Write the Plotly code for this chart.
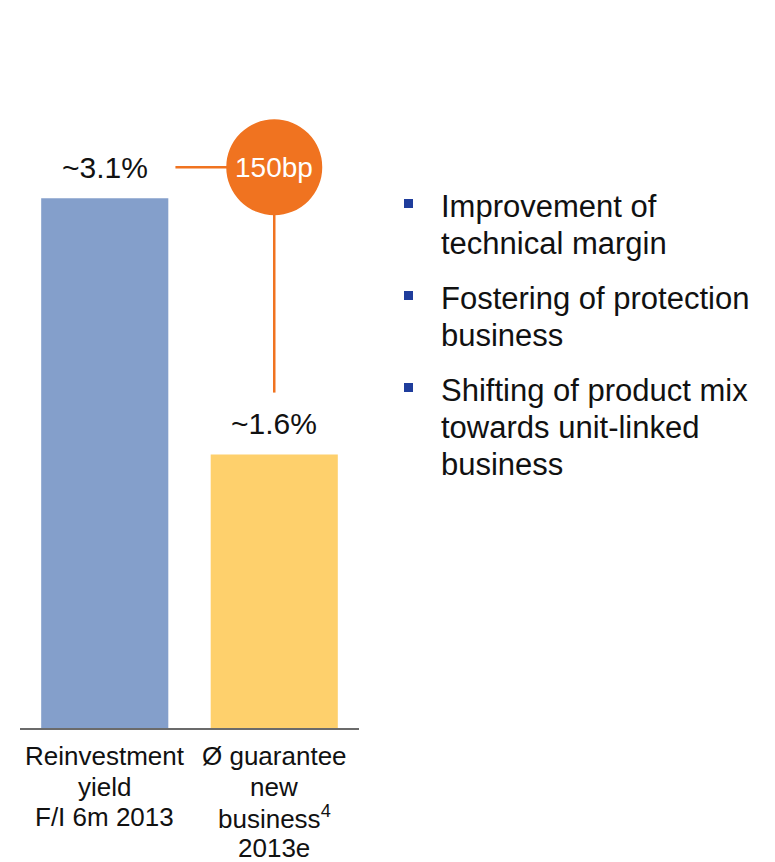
import plotly.graph_objects as go

# --- data -------------------------------------------------------------
category_lines = [
    ["Reinvestment", "yield", "F/I 6m 2013"],
    ["Ø guarantee", "new", "business<sup>4</sup>", "2013e"],
]
values = [3.1, 1.6]                      # percent
value_labels = [f"~{v:.1f}%" for v in values]
bar_colors = ["#849FCB", "#FED06C"]

bullet_items = [
    ["Improvement of", "technical margin"],
    ["Fostering of protection", "business"],
    ["Shifting of product mix", "towards unit-linked", "business"],
]

# --- layout constants -------------------------------------------------
W, H = 775, 862
FONT = "Liberation Sans, Arial, sans-serif"
BASELINE_PX = 728                     # pixel row of the zero line
Y_MAX = 4.26
PX_PER_UNIT = BASELINE_PX / Y_MAX     # y-axis domain runs to the top edge
ORANGE = "#F07320"
BULLET_BLUE = "#1F3D9C"

spread_bp = round((values[0] - values[1]) * 100)

fig = go.Figure(
    go.Bar(
        x=[0, 1],
        y=values,
        width=0.75,
        marker=dict(color=bar_colors, line=dict(width=0)),
        hoverinfo="skip",
    )
)

# value labels above bars
for i, (v, lab) in enumerate(zip(values, value_labels)):
    fig.add_annotation(
        x=i, y=v, xref="x", yref="y", text=lab, showarrow=False,
        yanchor="middle", yshift=31,
        font=dict(family=FONT, size=30, color="#111111"),
    )

# category names under the baseline, one line per annotation
for i, lines in enumerate(category_lines):
    for j, txt in enumerate(lines):
        fig.add_annotation(
            x=i, xref="x", y=1 - (756 + j * 30.5) / H, yref="paper",
            text=txt, showarrow=False, yanchor="middle",
            font=dict(family=FONT, size=26, color="#111111"),
        )

# spread bubble with connectors
bubble_y = values[0] + 31 / PX_PER_UNIT
line_end_y = values[1] + 62 / PX_PER_UNIT
fig.add_shape(type="line", xref="x", yref="y",
              x0=0.417, x1=1.0, y0=bubble_y, y1=bubble_y,
              line=dict(color=ORANGE, width=2.5))
fig.add_shape(type="line", xref="x", yref="y",
              x0=1.0, x1=1.0, y0=bubble_y, y1=line_end_y,
              line=dict(color=ORANGE, width=2.5))
fig.add_shape(type="circle", xref="x", yref="y",
              xsizemode="pixel", ysizemode="pixel",
              xanchor=1.0, yanchor=bubble_y,
              x0=-48, x1=48, y0=-48, y1=48,
              fillcolor=ORANGE, line=dict(width=0))
fig.add_annotation(
    x=1.0, y=bubble_y, xref="x", yref="y", text=f"{spread_bp}bp",
    showarrow=False, font=dict(family=FONT, size=28, color="white"),
)

# bullet list on the right
group_top = 206
group_step = 92
line_step = 37.5
for g, lines in enumerate(bullet_items):
    y0 = group_top + g * group_step
    fig.add_shape(type="rect", xref="paper", yref="paper",
                  x0=404 / W, x1=413 / W,
                  y0=1 - (y0 + 2) / H, y1=1 - (y0 - 7) / H,
                  fillcolor=BULLET_BLUE, line=dict(width=0))
    for j, txt in enumerate(lines):
        yc = y0 + j * line_step
        fig.add_annotation(
            x=439 / W, y=1 - yc / H, xref="paper", yref="paper",
            text=txt, showarrow=False, xanchor="left", yanchor="middle",
            font=dict(family=FONT, size=31, color="#111111"),
        )

fig.update_layout(
    width=W, height=H,
    margin=dict(l=0, r=0, t=0, b=0, autoexpand=False),
    paper_bgcolor="white", plot_bgcolor="white",
    showlegend=False,
    bargap=0.25,
    xaxis=dict(
        domain=[20 / W, 359 / W],
        range=[-0.5, 1.5],
        showticklabels=False,
        showline=True, linecolor="#6B6B6B", linewidth=2,
        showgrid=False, zeroline=False, ticks="",
        automargin=False,
        fixedrange=True,
    ),
    yaxis=dict(
        domain=[(H - BASELINE_PX) / H, 1],
        range=[0, Y_MAX],
        visible=False, showgrid=False, zeroline=False,
        automargin=False,
        fixedrange=True,
    ),
)

fig.write_html("out.html")
